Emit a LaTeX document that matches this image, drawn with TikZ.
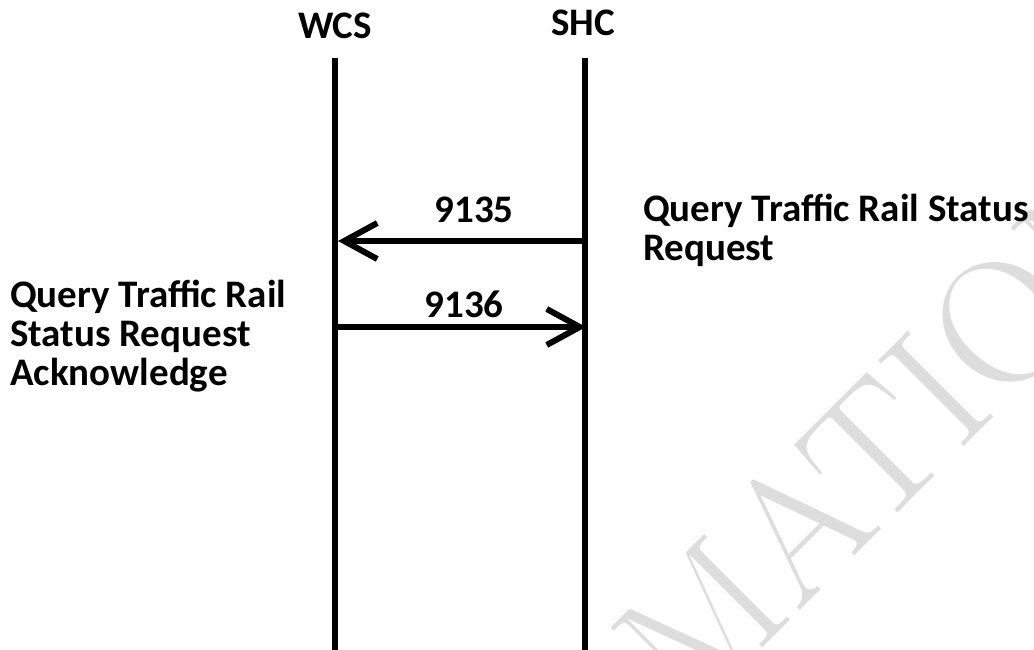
\documentclass[tikz,border=0pt]{standalone}
\usepackage{fontspec}
\newfontfamily\calfont{Carlito}
\usetikzlibrary{arrows.meta}
\definecolor{wmgray}{HTML}{DDDDDD}
\tikzset{
  lbl/.style={font=\calfont\bfseries\fontsize{39}{39}\selectfont, inner sep=0pt, align=left},
  life/.style={line width=6pt, black},
  msg/.style={line width=6pt, black, -{Straight Barb[length=33pt,width=36pt,line width=6pt,sharp]}},
  wm/.style={font=\rmfamily\fontsize{178}{178}\selectfont, text=wmgray, inner sep=0pt, rotate=45}
}
\begin{document}
\begin{tikzpicture}[x=1pt,y=-1pt]
\useasboundingbox (0,0) rectangle (1034,649);
\begin{scope}
\clip (0,0) rectangle (1034,649);
\node[wm, anchor=base west] (wmark) at (690,721) {MATION};
\end{scope}
% lifelines
\coordinate (wcsTop) at (335,58);
\coordinate (wcsBot) at (335,652);
\coordinate (shcTop) at (585,58);
\coordinate (shcBot) at (585,652);
\draw[life] (wcsTop) -- (wcsBot);
\draw[life] (shcTop) -- (shcBot);
\node[lbl, anchor=base] (wcs) at (335,38) {WCS};
\node[lbl, anchor=base] (shc) at (583,35) {SHC};
% messages
\coordinate (s1) at (585,241);
\coordinate (w1) at (338,241);
\coordinate (w2) at (338,327);
\coordinate (s2) at (586,327);
\draw[msg] (s1) -- (w1);
\draw[msg] (w2) -- (s2);
\node[lbl, anchor=base] (m1) at (474,222) {9135};
\node[lbl, anchor=base] (m2) at (464,317) {9136};
\node[lbl, anchor=base west] (req) at (643,260) {Query Traffic Rail Status\\Request};
\node[lbl, anchor=base west] (ack) at (10,385) {Query Traffic Rail\\Status Request\\Acknowledge};
\end{tikzpicture}
\end{document}
